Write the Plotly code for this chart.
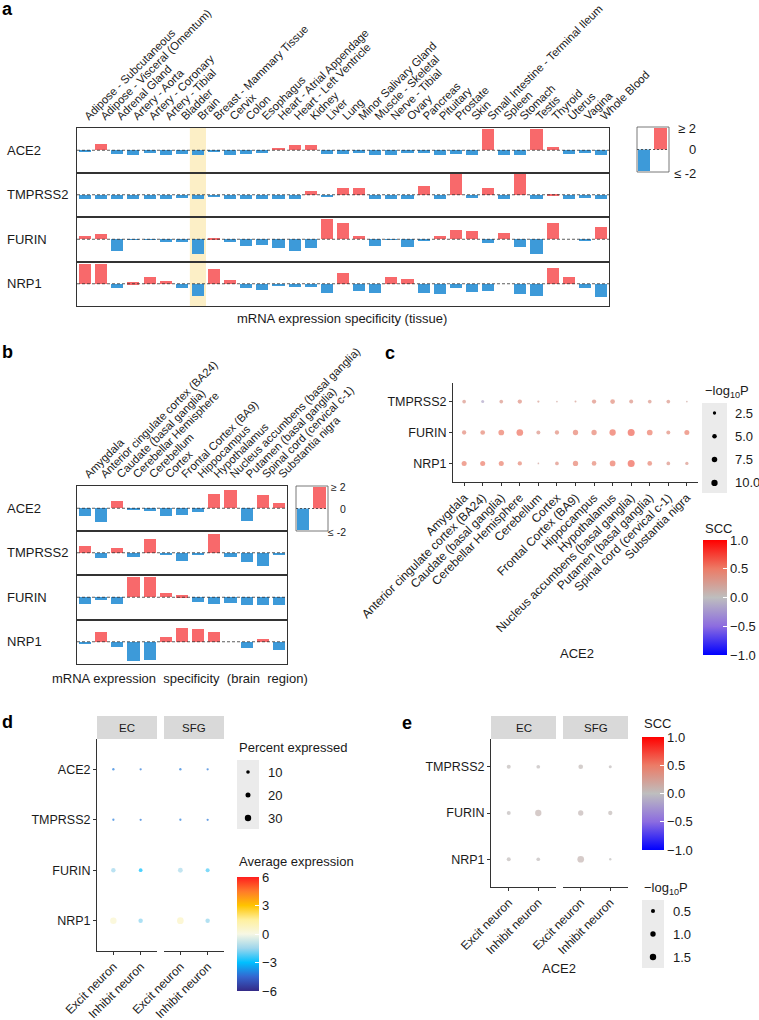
import math
import plotly.graph_objects as go

W, H = 759, 1020
FONT = "Liberation Sans, Arial, sans-serif"
TXT = "#1a1a1a"
RED = "#F8696B"
BLUE = "#3D9AD9"
LINE = "#333333"

# ---------------- data ----------------
genes = ["ACE2", "TMPRSS2", "FURIN", "NRP1"]
tissues = ["Adipose - Subcutaneous", "Adipose - Visceral (Omentum)", "Adrenal Gland",
           "Artery - Aorta", "Artery - Coronary", "Artery - Tibial", "Bladder", "Brain",
           "Breast - Mammary Tissue", "Cervix", "Colon", "Esophagus",
           "Heart - Atrial Appendage", "Heart - Left Ventricle", "Kidney", "Liver", "Lung",
           "Minor Salivary Gland", "Muscle - Skeletal", "Nerve - Tibial", "Ovary", "Pancreas",
           "Pituitary", "Prostate", "Skin", "Small Intestine - Terminal Ileum", "Spleen",
           "Stomach", "Testis", "Thyroid", "Uterus", "Vagina", "Whole Blood"]
a_ACE2 = [-0.15, 0.55, -0.35, -0.45, -0.25, -0.45, -0.35, -0.45, -0.15, -0.45, -0.35, -0.3,
          0.2, 0.45, 0.45, -0.35, -0.35, -0.25, -0.45, -0.45, -0.25, -0.25, -0.45, -0.35,
          -0.45, 2.0, -0.45, -0.45, 2.0, 0.3, -0.35, -0.25, -0.45]
a_TMPRSS2 = [-0.4, -0.4, -0.4, -0.4, -0.4, -0.4, -0.3, -0.4, -0.2, -0.4, -0.4, -0.4,
             -0.4, -0.4, 0.4, -0.08, 0.7, 0.7, -0.4, -0.4, -0.4, 0.9, -0.4, 2.0,
             -0.3, 0.7, -0.4, 2.0, -0.4, 0.15, -0.4, -0.3, -0.4]
a_FURIN = [0.35, 0.45, -1.1, -0.06, -0.06, -0.27, -0.27, -1.4, 0.12, -0.27, -0.6, -0.5,
           -0.8, -1.1, -0.87, 1.9, 1.5, 0.35, -0.65, -0.06, -0.7, -0.1, 0.27, 0.85,
           0.75, -0.35, 0.6, -0.75, -1.4, 1.5, 0.0, -0.08, 1.15]
a_NRP1 = [1.9, 1.9, -0.4, 0.18, 0.7, 0.27, -0.4, -1.07, 1.4, 0.42, -0.33, -0.5,
          -0.18, -0.24, -0.24, -0.84, 1.1, -0.6, -0.84, 0.7, 0.5, -0.84, -0.93, -0.4,
          -0.7, -0.6, 0.0, -0.93, -1.07, 1.55, 0.7, -0.4, -1.22]
highlight_tissue = "Brain"

regions = ["Amygdala", "Anterior cingulate cortex (BA24)", "Caudate (basal ganglia)",
           "Cerebellar Hemisphere", "Cerebellum", "Cortex", "Frontal Cortex (BA9)",
           "Hippocampus", "Hypothalamus", "Nucleus accumbens (basal ganglia)",
           "Putamen (basal ganglia)", "Spinal cord (cervical c-1)", "Substantia nigra"]
b_ACE2 = [-0.73, -1.3, 0.68, -0.08, -0.25, -0.73, -0.65, -0.35, 1.3, 1.7, -1.18, 1.22, 0.5]
b_TMPRSS2 = [0.68, -0.47, 0.53, -0.38, 1.32, -0.18, -0.76, -0.15, 1.85, -0.38, -0.85, -1.18, -0.2]
b_FURIN = [-0.62, -0.28, -0.62, 1.9, 1.9, 0.4, 0.18, -0.45, -0.62, -0.5, -0.7, -0.7, -0.7]
b_NRP1 = [-0.08, 1.0, -0.42, -1.8, -1.7, 0.5, 1.3, 1.22, 1.0, 0.0, -0.57, 0.3, -0.72]
spec_ticks = ["≥ 2", "0", "≤ -2"]

c_genes = ["TMPRSS2", "FURIN", "NRP1"]
c_logp_TMPRSS2 = [3.2, 2.0, 3.2, 4.5, 1.0, 0.4, 0.7, 4.5, 5.4, 3.8, 3.2, 3.2, 0.4]
c_logp_FURIN = [4.5, 5.4, 8.1, 11.3, 3.8, 4.5, 7.0, 7.0, 10.0, 12.4, 8.1, 3.8, 6.2]
c_logp_NRP1 = [6.2, 6.2, 6.2, 4.5, 0.4, 3.2, 7.0, 5.4, 8.1, 12.4, 5.4, 3.2, 2.5]
c_scc_TMPRSS2 = [0.3, -0.15, 0.3, 0.35, 0.25, 0.2, 0.25, 0.35, 0.38, 0.33, 0.3, 0.3, 0.18]
c_scc_FURIN = [0.4, 0.42, 0.5, 0.55, 0.32, 0.38, 0.45, 0.45, 0.55, 0.6, 0.5, 0.38, 0.48]
c_scc_NRP1 = [0.48, 0.5, 0.48, 0.42, 0.2, 0.35, 0.45, 0.42, 0.52, 0.6, 0.45, 0.33, 0.3]
c_logp_breaks = [2.5, 5.0, 7.5, 10.0]
scc_breaks = [1.0, 0.5, 0.0, -0.5, -1.0]

facets = ["EC", "SFG"]
cell_types = ["Excit neuron", "Inhibit neuron"]
d_genes = ["ACE2", "TMPRSS2", "FURIN", "NRP1"]
d_pct_EC_excit = [1.0, 0.8, 16, 30]
d_pct_EC_inhib = [0.4, 0.3, 11, 16]
d_pct_SFG_excit = [1.0, 0.8, 19, 32]
d_pct_SFG_inhib = [0.4, 0.3, 13, 16]
d_avg_EC_excit = [-4.1, -4.1, -1.5, 0.5]
d_avg_EC_inhib = [-4.2, -4.2, -3.0, -1.7]
d_avg_SFG_excit = [-4.1, -4.1, -1.3, 0.7]
d_avg_SFG_inhib = [-4.2, -4.2, -2.3, -1.6]
d_pct_breaks = [10, 20, 30]
d_avg_breaks = [6, 3, 0, -3, -6]

e_genes = ["TMPRSS2", "FURIN", "NRP1"]
e_logp_EC_excit = [0.46, 0.46, 0.46]
e_logp_EC_inhib = [0.36, 1.45, 0.36]
e_logp_SFG_excit = [0.71, 0.96, 1.66]
e_logp_SFG_inhib = [0.17, 0.56, 0.02]
e_scc_EC_excit = [0.03, 0.02, 0.03]
e_scc_EC_inhib = [0.02, 0.07, 0.02]
e_scc_SFG_excit = [0.04, 0.05, 0.07]
e_scc_SFG_inhib = [0.02, 0.04, 0.01]
e_logp_breaks = [0.5, 1.0, 1.5]

# ---------------- helpers ----------------
def X(p):
    return p / W


def Y(p):
    return 1 - p / H


def ax(n, kind):
    return f"{kind}axis" if n == 1 else f"{kind}axis{n}"


def ref(n, kind):
    return kind if n == 1 else f"{kind}{n}"


def size_c(v):
    return math.sqrt(1.3 + 3.84 * v)


def size_d(v):
    return 2.2 + 0.14 * v


def size_e(v):
    return math.sqrt(max(5 + 24 * v, 4))


SCC_SCALE = [[0, "#0000FF"], [0.25, "#8C6CE0"], [0.5, "#BEBEBE"], [0.75, "#EC7B66"], [1, "#FF0000"]]
AVG_SCALE = [[0, "#352A87"], [0.125, "#3466D0"], [0.25, "#00BFFF"], [0.375, "#9ED6EC"],
             [0.5, "#F7F7E4"], [0.625, "#FFF09E"], [0.75, "#FFC400"], [0.875, "#FF7A2A"],
             [1, "#FF1E1E"]]

LAB = 13      # titles, row labels, legend text
TICK = 12.5   # y tick labels of dot plots
XTICK = 12    # rotated x tick labels of dot plots

fig = go.Figure()
layout = {}
shapes = []
ann = []


def text(x, y, s, size=LAB, xanchor="left", yanchor="middle", bold=False, color=TXT):
    ann.append(dict(x=X(x), y=Y(y), xref="paper", yref="paper", text=(f"<b>{s}</b>" if bold else s),
                    showarrow=False, xanchor=xanchor, yanchor=yanchor,
                    font=dict(family=FONT, size=size, color=color)))


def rect(x0, y0, x1, y1, fill, line=None, layer="below"):
    shapes.append(dict(type="rect", xref="paper", yref="paper", x0=X(x0), x1=X(x1), y0=Y(y1), y1=Y(y0),
                       fillcolor=fill, line=dict(width=(0.8 if line else 0), color=line or fill),
                       layer=layer))


def circle(cx, cy, d, color="black"):
    r = d / 2
    shapes.append(dict(type="circle", xref="paper", yref="paper", xsizemode="pixel", ysizemode="pixel",
                       xanchor=X(cx), yanchor=Y(cy), x0=-r, x1=r, y0=-r, y1=r,
                       fillcolor=color, line=dict(width=0), layer="above"))


# ---------------- panels a & b: bar rows ----------------
def bar_panel(first_n, cats, rows, x0, x1, edges, highlight=None):
    for g, vals in enumerate(rows):
        n = first_n + g
        fig.add_trace(go.Bar(x=cats, y=vals, xaxis=ref(n, "x"), yaxis=ref(n, "y"), width=0.75,
                             marker=dict(color=[RED if v > 0 else BLUE for v in vals], line=dict(width=0)),
                             hoverinfo="skip"))
        layout[ax(n, "x")] = dict(domain=[X(x0), X(x1)], anchor=ref(n, "y"), type="category",
                                  categoryorder="array", categoryarray=cats, automargin=False,
                                  tickmode="linear", tick0=0, dtick=1,
                                  range=[-0.5, len(cats) - 0.5], showline=True, mirror=True,
                                  linecolor=LINE, linewidth=1, showgrid=False, zeroline=False,
                                  ticks="", side="top", tickangle=-45,
                                  showticklabels=(g == 0),
                                  tickfont=dict(family=FONT, size=11.3, color=TXT))
        layout[ax(n, "y")] = dict(domain=[Y(edges[g + 1]), Y(edges[g])], anchor=ref(n, "x"),
                                  range=[-2.1, 2.1], showline=True, mirror=True, linecolor=LINE,
                                  linewidth=1, showgrid=False, zeroline=False, showticklabels=False,
                                  ticks="", automargin=False)
        shapes.append(dict(type="line", xref=ref(n, "x") + " domain", x0=0, x1=1, yref=ref(n, "y"),
                           y0=0, y1=0, line=dict(color=LINE, width=0.8, dash="3px,2px"), layer="above"))
        if highlight is not None:
            i = cats.index(highlight)
            shapes.append(dict(type="rect", xref=ref(n, "x"), x0=i - 0.5, x1=i + 0.5,
                               yref=ref(n, "y") + " domain", y0=0, y1=1, fillcolor="#FCEFC6",
                               line=dict(width=0), layer="below"))
        text(5, (edges[g] + edges[g + 1]) / 2, genes[g])


edges_a = [128, 172.5, 217, 261.5, 306]
bar_panel(1, tissues, [a_ACE2, a_TMPRSS2, a_FURIN, a_NRP1], 77, 609, edges_a, highlight_tissue)
edges_b = [486, 530.5, 575, 619.5, 664]
bar_panel(5, regions, [b_ACE2, b_TMPRSS2, b_FURIN, b_NRP1], 77, 287, edges_b)


def spec_legend(x0, y0, x1, y1, label_x, fsize):
    ym = (y0 + y1) / 2
    xm = (x0 + x1) / 2
    rect(x0, y0, x1, y1, "white", line="#555555", layer="above")
    rect(xm + 1, y0 + 1, x1 - 2, ym, RED, layer="above")
    rect(x0 + 1, ym, xm - 3, y1 - 1, BLUE, layer="above")
    shapes.append(dict(type="line", xref="paper", yref="paper", x0=X(x0), x1=X(x1), y0=Y(ym), y1=Y(ym),
                       line=dict(color=LINE, width=0.8, dash="2px,2px"), layer="above"))
    for s, yy in zip(spec_ticks, [y0 + 1, ym, y1 + 1]):
        text(label_x, yy, s, size=fsize, xanchor="right")


spec_legend(637, 127, 669, 172, 698, 13)
spec_legend(296, 486, 328, 531, 348, 10.5)

text(342, 318, "mRNA expression specificity (tissue)", xanchor="center")
text(180, 678, "mRNA expression  specificity  (brain  region)", xanchor="center")

# ---------------- panel c ----------------
n = 9
for gname, lp, sc in zip(c_genes, [c_logp_TMPRSS2, c_logp_FURIN, c_logp_NRP1],
                         [c_scc_TMPRSS2, c_scc_FURIN, c_scc_NRP1]):
    fig.add_trace(go.Scatter(x=regions, y=[gname] * len(regions), mode="markers",
                             xaxis=ref(n, "x"), yaxis=ref(n, "y"), hoverinfo="skip",
                             marker=dict(size=[size_c(v) for v in lp], color=sc, coloraxis="coloraxis",
                                         line=dict(width=0))))
axis_common = dict(showline=True, linecolor=LINE, linewidth=1, showgrid=False, zeroline=False,
                   ticks="outside", ticklen=3, tickcolor=LINE, tickwidth=1, mirror=False,
                   automargin=False, tickmode="linear", tick0=0, dtick=1,
                   tickfont=dict(family=FONT, size=TICK, color=TXT))
xfont = dict(family=FONT, size=XTICK, color=TXT)
layout[ax(n, "x")] = dict(domain=[X(453), X(698)], anchor=ref(n, "y"), type="category",
                          categoryorder="array", categoryarray=regions, range=[-0.6, 12.6],
                          tickangle=-45, **{**axis_common, "tickfont": xfont})
layout[ax(n, "y")] = dict(domain=[Y(482), Y(383)], anchor=ref(n, "x"), type="category",
                          categoryorder="array", categoryarray=c_genes, range=[2.6, -0.6], **axis_common)
text(577, 653, "ACE2", xanchor="center")
# size legend c
text(703, 392, "−log<sub>10</sub>P")
rect(702, 403, 727, 493, "#EBEBEB")
for i, v in enumerate(c_logp_breaks):
    yy = 413 + i * 23.3
    circle(714.5, yy, size_c(v))
    text(733, yy, f"{v:.1f}")
text(703, 528, "SCC")

# ---------------- panel d ----------------
d_data = [(d_pct_EC_excit, d_pct_EC_inhib, d_avg_EC_excit, d_avg_EC_inhib),
          (d_pct_SFG_excit, d_pct_SFG_inhib, d_avg_SFG_excit, d_avg_SFG_inhib)]
d_x = [(97, 157), (164, 224)]
for k, (facet, (pe, pi, ae, ai), (x0, x1)) in enumerate(zip(facets, d_data, d_x)):
    n = 10 + k
    for ct, pct, avg in [(cell_types[0], pe, ae), (cell_types[1], pi, ai)]:
        fig.add_trace(go.Scatter(x=[ct] * len(d_genes), y=d_genes, mode="markers",
                                 xaxis=ref(n, "x"), yaxis=ref(n, "y"), hoverinfo="skip",
                                 marker=dict(size=[size_d(v) for v in pct], color=avg,
                                             coloraxis="coloraxis2", line=dict(width=0))))
    layout[ax(n, "x")] = dict(domain=[X(x0), X(x1)], anchor=ref(n, "y"), type="category",
                              categoryorder="array", categoryarray=cell_types, range=[-0.6, 1.6],
                              tickangle=-45, **{**axis_common, "tickfont": xfont})
    yd = dict(domain=[Y(951), Y(739)], anchor=ref(n, "x"), type="category", categoryorder="array",
              categoryarray=d_genes, range=[3.6, -0.6], **axis_common)
    if k == 1:
        yd.update(showline=False, ticks="", showticklabels=False)
    layout[ax(n, "y")] = yd
    rect(x0, 716, x1, 739, "#D9D9D9")
    text((x0 + x1) / 2, 727.5, facet, size=11.5, xanchor="center")
text(237, 747, "Percent expressed")
rect(237, 760, 259, 829, "#EBEBEB")
for i, v in enumerate(d_pct_breaks):
    yy = 772 + i * 23
    circle(248, yy, size_d(v))
    text(266, yy, str(v))
text(237, 861, "Average expression")

# ---------------- panel e ----------------
e_data = [(e_logp_EC_excit, e_logp_EC_inhib, e_scc_EC_excit, e_scc_EC_inhib),
          (e_logp_SFG_excit, e_logp_SFG_inhib, e_scc_SFG_excit, e_scc_SFG_inhib)]
e_x = [(491, 556), (563, 628)]
for k, (facet, (le, li, se, si), (x0, x1)) in enumerate(zip(facets, e_data, e_x)):
    n = 12 + k
    for ct, lp, sc in [(cell_types[0], le, se), (cell_types[1], li, si)]:
        fig.add_trace(go.Scatter(x=[ct] * len(e_genes), y=e_genes, mode="markers",
                                 xaxis=ref(n, "x"), yaxis=ref(n, "y"), hoverinfo="skip",
                                 marker=dict(size=[size_e(v) for v in lp], color=sc,
                                             coloraxis="coloraxis3", line=dict(width=0))))
    layout[ax(n, "x")] = dict(domain=[X(x0), X(x1)], anchor=ref(n, "y"), type="category",
                              categoryorder="array", categoryarray=cell_types, range=[-0.6, 1.6],
                              tickangle=-45, **{**axis_common, "tickfont": xfont})
    ye = dict(domain=[Y(887), Y(739)], anchor=ref(n, "x"), type="category", categoryorder="array",
              categoryarray=e_genes, range=[2.6, -0.6], **axis_common)
    if k == 1:
        ye.update(showline=False, ticks="", showticklabels=False)
    layout[ax(n, "y")] = ye
    rect(x0, 716, x1, 739, "#D9D9D9")
    text((x0 + x1) / 2, 727.5, facet, size=11.5, xanchor="center")
text(559, 968, "ACE2", xanchor="center")
text(642, 723, "SCC")
text(642, 888, "−log<sub>10</sub>P")
rect(642, 900, 664, 968, "#EBEBEB")
for i, v in enumerate(e_logp_breaks):
    yy = 911 + i * 23
    circle(653, yy, size_e(v))
    text(671, yy, f"{v:.1f}")

# panel letters
for s, x, y in [("a", 0, 9), ("b", 0, 352), ("c", 383, 353), ("d", 0, 722), ("e", 400, 723)]:
    text(x, y, s, size=18, bold=True, color="black")


def cbar(x, ytop, length, thick, vals, fmt):
    return dict(x=X(x), xanchor="left", xref="paper", y=Y(ytop), yanchor="top", yref="paper",
                len=length, lenmode="pixels", thickness=thick, thicknessmode="pixels",
                xpad=0, ypad=0, outlinewidth=0, tickvals=vals, ticktext=[fmt(v) for v in vals],
                ticks="inside", ticklen=4, tickcolor="white", tickwidth=1,
                tickfont=dict(family=FONT, size=LAB, color=TXT))


fmt1 = lambda v: f"{v:.1f}".replace("-", "−")
fmt0 = lambda v: f"{v:d}".replace("-", "−")
layout["coloraxis"] = dict(cmin=-1, cmax=1, colorscale=SCC_SCALE,
                           colorbar=cbar(703, 540, 115, 24, scc_breaks, fmt1))
layout["coloraxis2"] = dict(cmin=-6, cmax=6, colorscale=AVG_SCALE,
                            colorbar=cbar(237, 877, 114, 22, d_avg_breaks, fmt0))
layout["coloraxis3"] = dict(cmin=-1, cmax=1, colorscale=SCC_SCALE,
                            colorbar=cbar(642, 737, 113, 22, scc_breaks, fmt1))

fig.update_layout(template="none", width=W, height=H, margin=dict(l=0, r=0, t=0, b=0, autoexpand=False),
                  autosize=False, paper_bgcolor="white", plot_bgcolor="white", showlegend=False,
                  font=dict(family=FONT, color=TXT), bargap=0, shapes=shapes, annotations=ann,
                  **layout)
fig.write_html("out.html", config={"displayModeBar": False},
               post_script="document.body.style.margin='0';document.body.style.padding='0';"
                           "document.body.style.overflow='hidden';"
                           "document.documentElement.style.overflow='hidden';")
